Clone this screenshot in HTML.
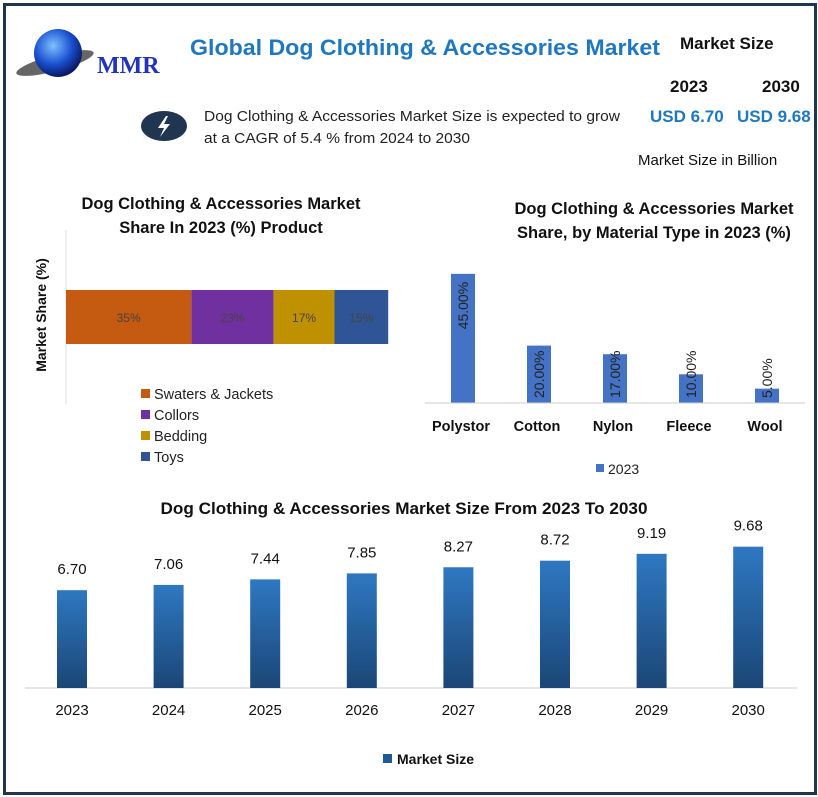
<!DOCTYPE html>
<html><head><meta charset="utf-8"><style>
body{margin:0;width:818px;height:797px;background:#fff;font-family:"Liberation Sans",sans-serif;overflow:hidden}
.frame{position:absolute;left:3px;top:3px;width:808px;height:786px;border:3px solid #1f3550}
</style></head><body>
<div class="frame"></div>
<svg width="818" height="797" style="position:absolute;left:0;top:0">
<defs>
<radialGradient id="globe" cx="40%" cy="35%" r="65%"><stop offset="0" stop-color="#7fc0ff"/><stop offset="0.6" stop-color="#1a4fd0"/><stop offset="1" stop-color="#0a1a60"/></radialGradient>
<linearGradient id="bg" x1="0" y1="0" x2="0" y2="1"><stop offset="0" stop-color="#2e78c2"/><stop offset="1" stop-color="#1b4676"/></linearGradient>
</defs>
<g>
<ellipse cx="55" cy="63" rx="40" ry="8" fill="#666" transform="rotate(-15 55 63)"/>
<circle cx="58" cy="53" r="24" fill="url(#globe)"/>
<text x="97" y="73" font-family="Liberation Serif" font-weight="bold" font-size="24" fill="#2233bb">MMR</text>
</g>
<text x="190" y="55" font-size="22" font-weight="bold" fill="#1f77c0" textLength="470" lengthAdjust="spacingAndGlyphs">Global Dog Clothing &amp; Accessories Market</text>
<text x="680" y="49" font-size="17" font-weight="bold" fill="#111">Market Size</text>
<text x="670" y="92" font-size="17" font-weight="bold" fill="#111">2023</text>
<text x="762" y="92" font-size="17" font-weight="bold" fill="#111">2030</text>
<text x="650" y="122" font-size="17" font-weight="bold" fill="#1f77c0">USD 6.70</text>
<text x="737" y="122" font-size="17" font-weight="bold" fill="#1f77c0">USD 9.68</text>
<text x="638" y="165" font-size="15" fill="#111">Market Size in Billion</text>
<ellipse cx="164" cy="126" rx="23" ry="15" fill="#1f3550"/>
<path d="M166 116 L158 128 L164 128 L160 137 L170 124 L164 124 L168 116 Z" fill="#fff"/>
<text x="204" y="121" font-size="15" fill="#222" textLength="416" lengthAdjust="spacingAndGlyphs">Dog Clothing &amp; Accessories Market Size is expected to grow</text>
<text x="204" y="143" font-size="15" fill="#222" textLength="266" lengthAdjust="spacingAndGlyphs">at a CAGR of 5.4 % from 2024 to 2030</text>
<text x="221" y="209" font-size="16.5" font-weight="bold" text-anchor="middle" fill="#111">Dog Clothing &amp; Accessories Market</text>
<text x="221" y="233" font-size="16.5" font-weight="bold" text-anchor="middle" fill="#111">Share In 2023 (%) Product</text>
<text x="654" y="214" font-size="16.5" font-weight="bold" text-anchor="middle" fill="#111">Dog Clothing &amp; Accessories Market</text>
<text x="654" y="238" font-size="16.5" font-weight="bold" text-anchor="middle" fill="#111">Share, by Material Type in 2023 (%)</text>
<text x="46" y="315" font-size="14" font-weight="bold" text-anchor="middle" transform="rotate(-90 46 315)" fill="#111">Market Share (%)</text>
<line x1="66" y1="230" x2="66" y2="404" stroke="#ddd"/>
<g id="stack"></g>
<g id="mat"></g>
<line x1="425" y1="403" x2="805" y2="403" stroke="#ccc"/>
<rect x="596" y="464" width="8" height="8" fill="#4472c4"/>
<text x="608" y="474" font-size="14" fill="#222">2023</text>
<text x="404" y="514" font-size="17" font-weight="bold" text-anchor="middle" fill="#111" textLength="487" lengthAdjust="spacingAndGlyphs">Dog Clothing &amp; Accessories Market Size From 2023 To 2030</text>
<line x1="25" y1="688" x2="797" y2="688" stroke="#ccc"/>
<g id="size"></g>
<rect x="383" y="754" width="9" height="9" fill="#1f5a96"/>
<text x="397" y="764" font-size="14" font-weight="bold" fill="#111">Market Size</text>
</svg>
<script>
const stackCats=["Swaters & Jackets","Collors","Bedding","Toys"];
const stackVals=[35,23,17,15];
const stackColors=["#c55a11","#7030a0","#bf9000","#2f5597"];
const matCats=["Polystor","Cotton","Nylon","Fleece","Wool"];
const matVals=[45,20,17,10,5];
const matLabels=["45.00%","20.00%","17.00%","10.00%","5.00%"];
const years=["2023","2024","2025","2026","2027","2028","2029","2030"];
const sizeVals=[6.70,7.06,7.44,7.85,8.27,8.72,9.19,9.68];
const NS="http://www.w3.org/2000/svg";
function mk(p,tag,a,txt){const e=document.createElementNS(NS,tag);for(const k in a)e.setAttribute(k,a[k]);if(txt!=null)e.textContent=txt;p.appendChild(e);return e;}
const sx=v=>v*3.58;
let g=document.getElementById('stack'),acc=66;
stackVals.forEach((v,i)=>{
 const r=mk(g,'rect',{x:acc,y:290,width:sx(v),height:54,fill:stackColors[i]});
 
 
 mk(g,'text',{x:acc+sx(v)/2,y:322,'font-size':12,'text-anchor':'middle',fill:'#444'},v+'%');
 acc+=sx(v);
 mk(g,'rect',{x:141,y:389+i*21,width:9,height:9,fill:stackColors[i]});
 const t=mk(g,'text',{x:154,y:399+i*21,'font-size':14.5,fill:'#222'},stackCats[i]);
 
 
});
g=document.getElementById('mat');
const my=v=>403-v*2.87, mx=i=>463+i*76;
matVals.forEach((v,i)=>{
 const r=mk(g,'rect',{x:mx(i)-12,y:my(v),width:24,height:403-my(v),fill:'#4472c4'});
 
 
 const lx=mx(i)+5;
 if(i==0) mk(g,'text',{x:lx,y:my(v)+8,'font-size':14,fill:'#222','text-anchor':'end',transform:`rotate(-90 ${lx} ${my(v)+8})`},matLabels[i]);
 else mk(g,'text',{x:lx,y:398,'font-size':14,fill:'#222','text-anchor':'start',transform:`rotate(-90 ${lx} 398)`},matLabels[i]);
 mk(g,'text',{x:mx(i)-2,y:431,'font-size':14.5,'font-weight':'bold','text-anchor':'middle',fill:'#111'},matCats[i]);
});
g=document.getElementById('size');
const by=v=>688-v*14.6, bx=i=>72+i*96.6;
sizeVals.forEach((v,i)=>{
 const r=mk(g,'rect',{x:bx(i)-15,y:by(v),width:30,height:688-by(v),fill:'url(#bg)'});
 
 
 mk(g,'text',{x:bx(i),y:by(v)-16,'font-size':15,'text-anchor':'middle',fill:'#111'},v.toFixed(2));
 mk(g,'text',{x:bx(i),y:715,'font-size':15,'text-anchor':'middle',fill:'#111'},years[i]);
});
</script>
</body></html>
